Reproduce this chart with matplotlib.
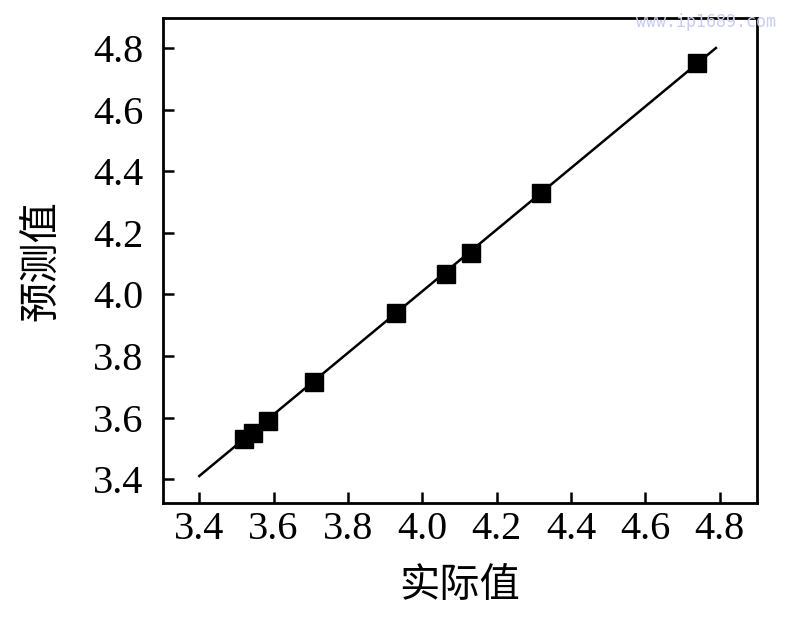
import matplotlib
matplotlib.use("Agg")
import matplotlib.pyplot as plt
import numpy as np

actual = [3.52, 3.545, 3.585, 3.71, 3.93, 4.065, 4.13, 4.32, 4.74]
predicted = [3.53, 3.55, 3.59, 3.715, 3.94, 4.065, 4.135, 4.33, 4.75]
fit_x = [3.4, 4.79]
fit_y = [3.41, 4.80]
xticks = [3.4, 3.6, 3.8, 4.0, 4.2, 4.4, 4.6, 4.8]
yticks = [3.4, 3.6, 3.8, 4.0, 4.2, 4.4, 4.6, 4.8]

fig = plt.figure(figsize=(8, 6.25), dpi=100)
ax = fig.add_axes([0.204, 0.195, 0.742, 0.776])
ax.plot(fit_x, fit_y, color="black", lw=1.8)
ax.plot(actual, predicted, "s", color="black", markersize=13)
ax.set_xlim(3.303, 4.9)
ax.set_ylim(3.322, 4.897)
ax.set_xticks(xticks)
ax.set_yticks(yticks)
ax.set_xticklabels([f"{v:.1f}" for v in xticks], family="Liberation Serif", fontsize=29)
ax.set_yticklabels([f"{v:.1f}" for v in yticks], family="Liberation Serif", fontsize=29)
ax.tick_params(axis="x", direction="in", length=8, width=1.8, top=False, pad=6)
ax.tick_params(axis="y", direction="in", length=8, width=1.8, right=False, pad=14)
for s in ax.spines.values():
    s.set_linewidth(2)
ax.set_xlabel("实际值", family=["Noto Sans CJK SC", "DejaVu Sans"], fontsize=29, labelpad=12)
ax.set_ylabel("预测值", family=["Noto Sans CJK SC", "DejaVu Sans"], fontsize=29, labelpad=22)
fig.text(0.97, 0.965, "www.ip1689.com", ha="right", va="center", color="#c8cdf0",
         family="DejaVu Sans Mono", fontsize=12)
fig.savefig("out.png")
